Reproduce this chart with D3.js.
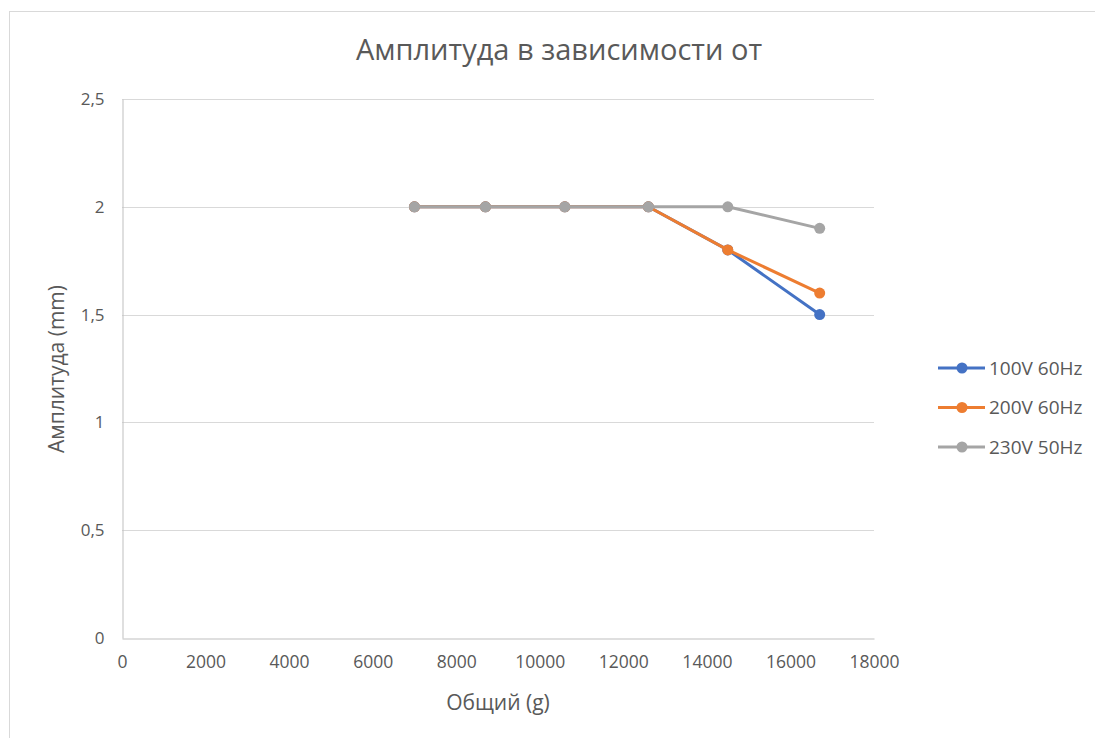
<!DOCTYPE html>
<html>
<head>
<meta charset="utf-8">
<script src="https://cdn.jsdelivr.net/npm/d3@7"></script>
<style>
  body { margin: 0; background: #fff; }
  text { font-family: "Open Sans", "Liberation Sans", sans-serif; }
</style>
</head>
<body>
<div id="chart"></div>
<script>
// Données
const weights = [7000, 8700, 10600, 12600, 14500, 16700];
const seriesNames = ["100V 60Hz", "200V 60Hz", "230V 50Hz"];
const amp100 = [2, 2, 2, 2, 1.8, 1.5];
const amp200 = [2, 2, 2, 2, 1.8, 1.6];
const amp230 = [2, 2, 2, 2, 2, 1.9];
const xTicks = [0, 2000, 4000, 6000, 8000, 10000, 12000, 14000, 16000, 18000];
const yTicks = [0, 0.5, 1, 1.5, 2, 2.5];
const colors = ["#4472C4", "#ED7D31", "#A5A5A5"];

const series = [amp100, amp200, amp230].map((vals, i) => ({
  name: seriesNames[i],
  color: colors[i],
  points: weights.map((w, j) => [w, vals[j]])
}));

const width = 1095;
const height = 738;

const x = d3.scaleLinear([0, 18000], [122, 874]);
const y = d3.scaleLinear([0, 2.5], [638, 99]);

const svg = d3.create("svg")
    .attr("width", width)
    .attr("height", height);

// cadre
svg.append("rect")
    .attr("x", 9.5).attr("y", 11.5)
    .attr("width", 1100).attr("height", 740)
    .attr("fill", "#fff")
    .attr("stroke", "#d9d9d9");

// titre
svg.append("text")
    .attr("x", 559).attr("y", 60)
    .attr("text-anchor", "middle")
    .attr("font-size", 29)
    .attr("fill", "#595959")
    .text("Амплитуда в зависимости от");

// grille
svg.append("g")
    .selectAll("line")
    .data(yTicks.filter(d => d > 0))
    .join("line")
      .attr("x1", x(0)).attr("x2", x(18000))
      .attr("y1", d => Math.round(y(d)) + 0.5)
      .attr("y2", d => Math.round(y(d)) + 0.5)
      .attr("stroke", "#d9d9d9");

// axes
const yAxis = svg.append("g")
    .attr("transform", `translate(${x(0) + 0.5},0)`)
    .call(d3.axisLeft(y).tickValues(yTicks).tickSize(0).tickPadding(18)
      .tickFormat(d => String(d).replace(".", ",")));
yAxis.select(".domain").attr("stroke", "#bfbfbf");
yAxis.selectAll("text").attr("font-size", 17).attr("fill", "#595959");

const xAxis = svg.append("g")
    .attr("transform", `translate(0,${Math.round(y(0)) + 0.5})`)
    .call(d3.axisBottom(x).tickValues(xTicks).tickSize(0).tickPadding(17)
      .tickFormat(d3.format("d")));
xAxis.select(".domain").attr("stroke", "#bfbfbf");
xAxis.selectAll("text").attr("font-size", 17.5).attr("fill", "#595959");

// titres des axes
svg.append("text")
    .attr("x", 498).attr("y", 710)
    .attr("text-anchor", "middle")
    .attr("font-size", 21)
    .attr("fill", "#595959")
    .text("Общий (g)");

svg.append("text")
    .attr("transform", "translate(64,369) rotate(-90)")
    .attr("text-anchor", "middle")
    .attr("font-size", 21)
    .attr("fill", "#595959")
    .text("Амплитуда (mm)");

// lignes
const line = d3.line().x(d => x(d[0])).y(d => y(d[1]));

const g = svg.append("g")
    .selectAll("g")
    .data(series)
    .join("g");

g.append("path")
    .attr("fill", "none")
    .attr("stroke", d => d.color)
    .attr("stroke-width", 3)
    .attr("stroke-linejoin", "round")
    .attr("d", d => line(d.points));

g.selectAll("circle")
    .data(d => d.points.map(p => ({p, color: d.color})))
    .join("circle")
      .attr("cx", d => x(d.p[0]))
      .attr("cy", d => y(d.p[1]))
      .attr("r", 5.5)
      .attr("fill", d => d.color);

// légende
const legend = svg.append("g")
    .selectAll("g")
    .data(series)
    .join("g")
      .attr("transform", (d, i) => `translate(938,${368 + i * 39.5})`);

legend.append("line")
    .attr("x1", 0).attr("x2", 47)
    .attr("stroke", d => d.color)
    .attr("stroke-width", 3);

legend.append("circle")
    .attr("cx", 24).attr("r", 5.5)
    .attr("fill", d => d.color);

legend.append("text")
    .attr("x", 51).attr("dy", "0.36em")
    .attr("font-size", 19)
    .attr("fill", "#595959")
    .text(d => d.name);

document.getElementById("chart").appendChild(svg.node());
</script>
</body>
</html>
